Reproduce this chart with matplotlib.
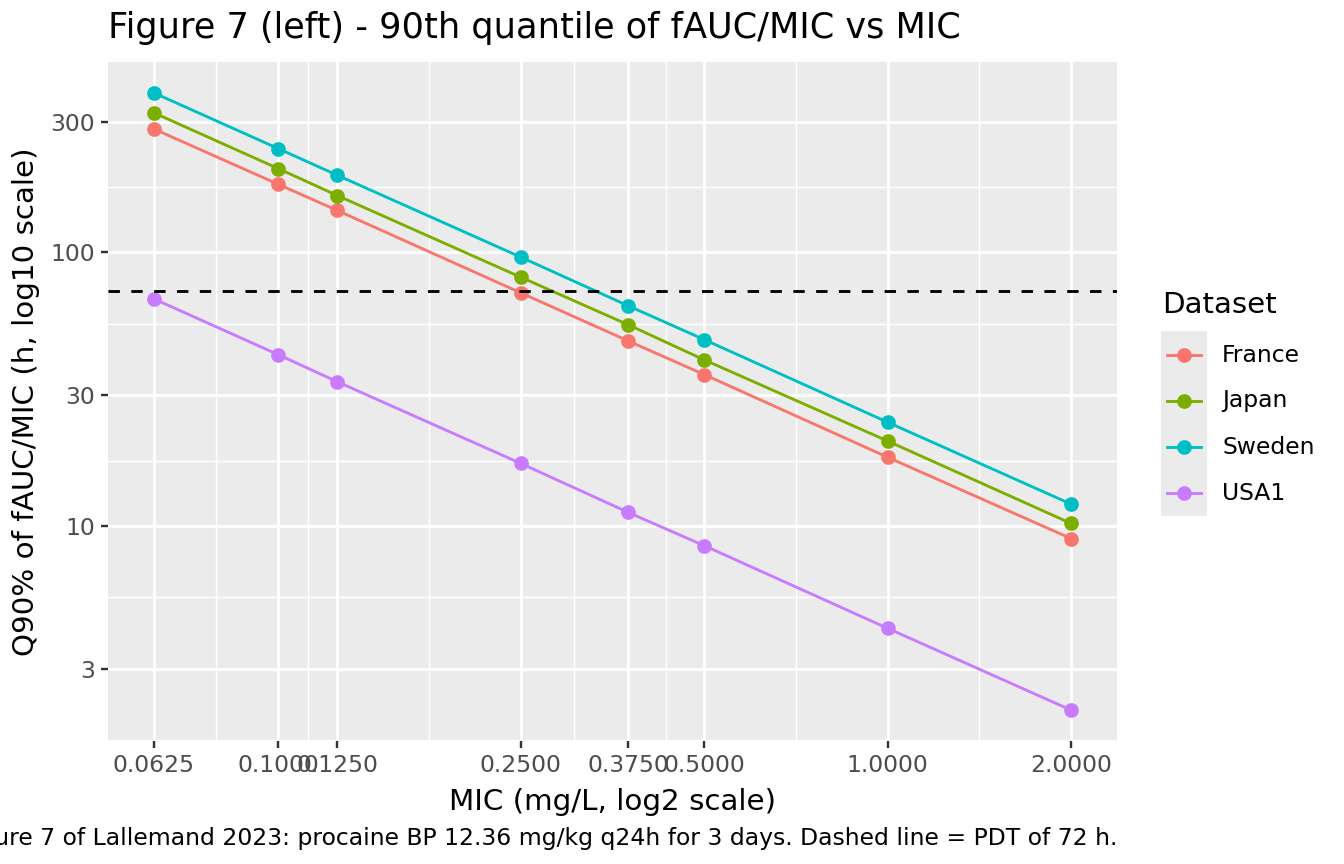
import numpy as np
import matplotlib
matplotlib.use('Agg')
import matplotlib.pyplot as plt
from matplotlib.lines import Line2D
from matplotlib.patches import Rectangle

# data
mic = [0.0625, 0.1, 0.125, 0.25, 0.375, 0.5, 1.0, 2.0]
france = [282, 177, 142, 71, 47.4, 35.7, 17.8, 8.98]
japan = [323, 202, 161, 81, 54.3, 40.4, 20.4, 10.2]
sweden = [382, 239, 191, 95.9, 63.7, 47.9, 23.9, 12.0]
usa1 = [67.5, 42.2, 33.6, 16.9, 11.2, 8.46, 4.22, 2.12]
datasets = ['France', 'Japan', 'Sweden', 'USA1']
colors = ['#F8766D', '#7CAE00', '#00BFC4', '#C77CFF']
pdt = 72
xbreaks = mic
xlabels = ['0.0625', '0.1000', '0.1250', '0.2500', '0.3750', '0.5000', '1.0000', '2.0000']
ybreaks = [3, 10, 30, 100, 300]
ylabels = ['3', '10', '30', '100', '300']

W, H = 1344, 864
fig = plt.figure(figsize=(7, 4.5), dpi=192)
ax = fig.add_axes([108 / W, 1 - 741 / H, (1117 - 108) / W, (741 - 62) / H])
ax.set_facecolor('#EBEBEB')
for s in ax.spines.values():
    s.set_visible(False)

ax.set_xscale('log', base=2)
ax.set_yscale('log', base=10)

series = [france, japan, sweden, usa1]
for name, vals, c in zip(datasets, series, colors):
    ax.plot(mic, vals, color=c, lw=1.07, marker='o', ms=4.5, mec=c, mfc=c, zorder=3, label=name)

ax.margins(x=0.05, y=0.05)
ax.axhline(pdt, color='black', ls=(0, (4, 4)), lw=1.07, zorder=4)

# breaks + minor breaks (midpoints in transformed space like ggplot)
ax.set_xticks(xbreaks)
ax.set_xticklabels(xlabels)
ax.set_yticks(ybreaks)
ax.set_yticklabels(ylabels)
lx = np.log2(xbreaks)
xminor = list(2 ** ((lx[:-1] + lx[1:]) / 2))
ly = np.log10(ybreaks)
ystep = ly[1] - ly[0]
yminor = list(10 ** ((ly[:-1] + ly[1:]) / 2)) + [10 ** (ly[0] - ystep / 2)]
ax.set_xticks(xminor, minor=True)
ax.set_yticks(yminor, minor=True)
ax.xaxis.set_minor_formatter(plt.NullFormatter())
ax.yaxis.set_minor_formatter(plt.NullFormatter())
ax.tick_params(which='minor', length=0)
ax.tick_params(which='major', length=2.75, width=0.9, color='#333333',
               labelcolor='#4D4D4D', labelsize=8.8, pad=2.2)
ax.grid(which='major', color='white', lw=1.07, zorder=0)
ax.grid(which='minor', color='white', lw=0.53, zorder=0)
ax.set_axisbelow(True)

ax.set_xlabel('MIC (mg/L, log2 scale)', fontsize=11, labelpad=4)
ax.set_ylabel('Q90% of fAUC/MIC (h, log10 scale)', fontsize=11, labelpad=4)

fig.text(108 / W, 1 - 28 / H, 'Figure 7 (left) - 90th quantile of fAUC/MIC vs MIC',
         fontsize=13.2, ha='left', va='center')
fig.text(1117 / W, 1 - 838 / H,
         'Figure 7 of Lallemand 2023: procaine BP 12.36 mg/kg q24h for 3 days. Dashed line = PDT of 72 h.',
         fontsize=8.8, ha='right', va='center')

# legend drawn by hand, ggplot style
fig.text(1162 / W, 1 - 305 / H, 'Dataset', fontsize=11, ha='left', va='center')
fig.add_artist(Rectangle((1161 / W, 1 - 516 / H), 46 / W, 185 / H,
                         transform=fig.transFigure, facecolor='#EBEBEB', edgecolor='none'))
for i, (name, c) in enumerate(zip(datasets, colors)):
    yy = 1 - (355 + i * 46) / H
    fig.add_artist(Line2D([1167 / W, 1201 / W], [yy, yy], transform=fig.transFigure,
                          color=c, lw=1.07))
    fig.add_artist(Line2D([1184 / W], [yy], transform=fig.transFigure, color=c,
                          marker='o', ms=4.5, ls='none'))
    fig.text(1222 / W, yy, name, fontsize=8.8, ha='left', va='center')

fig.savefig('out.png', dpi=192)
